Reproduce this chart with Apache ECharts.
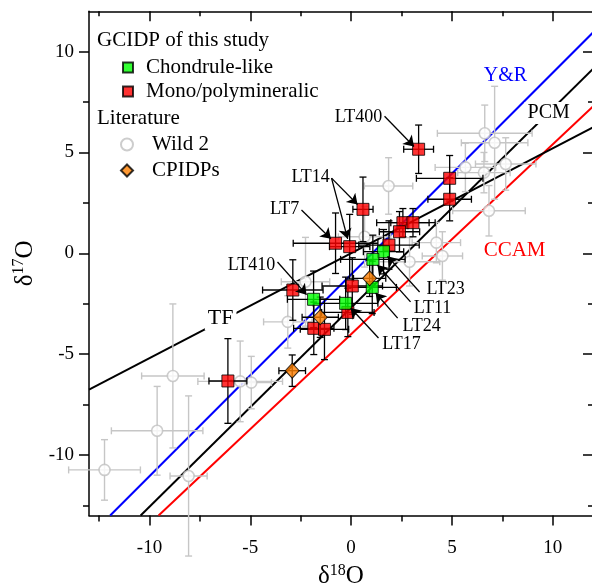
<!DOCTYPE html>
<html>
<head>
<meta charset="utf-8">
<script src="https://cdn.jsdelivr.net/npm/echarts@6/dist/echarts.min.js"></script>
<style>html,body{margin:0;padding:0;background:#fff;}#c{width:592px;height:584px;}</style>
</head>
<body>
<div id="c"></div>
<script>
// ---------- DATA ----------
// GCIDP of this study: Chondrule-like  [d18O, d17O, err18, err17]
const chondruleX = [1.61, 1.08, 1.05, -0.27, -1.86];
const chondruleY = [0.08, -0.30, -1.69, -2.48, -2.28];
const chondruleXErr = [1.0, 1.6, 1.2, 1.6, 1.3];
const chondruleYErr = [1.1, 1.2, 1.3, 1.3, 1.4];

// GCIDP of this study: Mono/polymineralic
const monoX = [3.35, 4.89, 4.89, 2.57, 3.07, 2.40, 1.88, 0.59, -0.77, -0.07, -2.89, -1.85, -1.32, 0.06, -0.16, -6.11];
const monoY = [5.16, 3.72, 2.68, 1.52, 1.52, 1.07, 0.41, 2.18, 0.50, 0.33, -1.82, -3.72, -3.77, -1.62, -2.93, -6.33];
const monoXErr = [0.74, 1.65, 1.08, 1.3, 1.1, 1.0, 1.5, 0.5, 2.1, 1.0, 1.5, 1.0, 1.2, 1.5, 1.3, 0.94];
const monoYErr = [1.2, 1.13, 1.07, 0.7, 0.7, 1.0, 1.2, 1.6, 1.5, 1.6, 1.5, 1.3, 1.5, 1.4, 1.2, 2.1];

// Literature: Wild 2
const wildX = [-12.23, -9.62, -8.84, -8.06, -5.50, -4.95, 6.63, 7.12, 7.67, 5.67, 6.59, 6.84, 1.86, 4.23, 4.53, 2.90, 0.67, -2.26, -3.14];
const wildY = [-10.74, -8.80, -6.08, -11.04, -6.35, -6.41, 5.95, 5.48, 4.43, 4.26, 4.00, 2.11, 3.34, 0.53, -0.13, -0.42, 0.82, -1.41, -3.40];
const wildXErr = [1.78, 2.27, 1.55, 0.92, 2.1, 1.0, 2.35, 1.65, 1.5, 1.5, 1.3, 1.8, 1.2, 1.2, 1.0, 1.5, 1.3, 1.2, 1.2];
const wildYErr = [1.5, 2.2, 3.57, 3.97, 2.0, 1.3, 1.4, 2.8, 1.3, 1.2, 1.0, 1.25, 1.4, 1.0, 1.2, 1.2, 1.5, 2.2, 1.3];

// Literature: CPIDPs
const cpX = [0.92, -1.53, -2.92];
const cpY = [-1.24, -3.17, -5.82];
const cpXErr = [0.8, 0.9, 0.66];
const cpYErr = [0.9, 1.0, 0.78];

// Reference lines (end points)
const lineYR = [[-11.95, -13], [12, 10.95]];
const linePCM = [[-10.44, -13], [12, 9.14]];
const lineCCAM = [[-9.55, -13], [12, 7.28]];
const lineTF = [[-13, -6.76], [12, 6.24]];

// Axis ticks
const majorTicks = [-10, -5, 0, 5, 10];
const minorTicks = [-12.5, -7.5, -2.5, 2.5, 7.5];

// Sample labels and arrows
const sampleLabels = [
  {name: 'LT400', pos: [0.37, 6.75]},
  {name: 'LT14', pos: [-2.01, 3.78]},
  {name: 'LT7', pos: [-3.3, 2.2]},
  {name: 'LT410', pos: [-4.94, -0.58]},
  {name: 'LT23', pos: [4.69, -1.77]},
  {name: 'LT11', pos: [4.04, -2.71]},
  {name: 'LT24', pos: [3.5, -3.6]},
  {name: 'LT17', pos: [2.5, -4.49]}
];
const sampleArrows = [
  [[1.66, 6.8], [3.12, 5.3]],
  [[-0.97, 3.73], [0.32, 2.42]],
  [[-0.97, 3.73], [-0.17, 0.72]],
  [[-2.46, 2.15], [-1.0, 0.72]],
  [[-3.65, -0.43], [-2.21, -2.05]],
  [[3.4, -1.92], [1.81, -0.15]],
  [[2.95, -2.41], [1.31, -0.58]],
  [[2.31, -3.21], [1.22, -1.97]],
  [[1.36, -4.2], [-0.02, -2.71]]
];
const lineLabels = [
  {name: 'Y&R', pos: [7.66, 8.79], color: '#0000ff', bg: null, size: 20},
  {name: 'PCM', pos: [9.8, 6.96], color: '#000000', bg: '#ffffff', size: 20},
  {name: 'TF', pos: [-6.47, -3.21], color: '#000000', bg: '#ffffff', size: 22},
  {name: 'CCAM', pos: [8.11, 0.16], color: '#ff0000', bg: null, size: 21}
];

// ---------- BUILD ----------
const FONT = 'Liberation Serif';
function rows(x, y, ex, ey) { return x.map((v, i) => [v, y[i], ex[i], ey[i]]); }

function errBars(color, width) {
  return function (params, api) {
    const x = api.value(0), y = api.value(1), ex = api.value(2), ey = api.value(3);
    const l = api.coord([x - ex, y]), r = api.coord([x + ex, y]);
    const t = api.coord([x, y + ey]), b = api.coord([x, y - ey]);
    const cap = 3.5;
    const st = {stroke: color, lineWidth: width, fill: null};
    const seg = (x1, y1, x2, y2) => ({type: 'line', shape: {x1, y1, x2, y2}, style: st});
    return {type: 'group', children: [
      seg(l[0], l[1], r[0], r[1]),
      seg(t[0], t[1], b[0], b[1]),
      seg(l[0], l[1] - cap, l[0], l[1] + cap),
      seg(r[0], r[1] - cap, r[0], r[1] + cap),
      seg(t[0] - cap, t[1], t[0] + cap, t[1]),
      seg(b[0] - cap, b[1], b[0] + cap, b[1])
    ]};
  };
}

function refLine(name, pts, color) {
  return {type: 'line', name, data: pts, symbol: 'none', silent: true, z: 1,
    lineStyle: {color, width: 2}, itemStyle: {color}, animation: false};
}

const chart = echarts.init(document.getElementById('c'), null, {renderer: 'canvas'});

const axisCommon = {type: 'value', min: -13, max: 12, splitLine: {show: false}};
const noLabel = {show: false};
const lineOn = {show: true, onZero: false, lineStyle: {color: '#000', width: 1.5}};
const lineOff = {show: false, onZero: false};
const tickStyle = {color: '#000', width: 1.5};
const nameRich = {
  a: {fontFamily: FONT, fontSize: 25, color: '#000', lineHeight: 28},
  s: {fontFamily: FONT, fontSize: 16, color: '#000', verticalAlign: 'top', lineHeight: 18}
};
const plainLabel = {show: true, position: 'inside', formatter: '{b}', fontFamily: FONT,
  textBorderWidth: 0, textShadowBlur: 0, opacity: 1};

const option = {
  animation: false,
  backgroundColor: '#fff',
  grid: {left: 89, top: 11.3, right: -1, bottom: 68.5, outerBoundsMode: 'none'},
  xAxis: [
    Object.assign({}, axisCommon, {position: 'bottom', axisLine: lineOn,
      axisTick: {show: true, customValues: majorTicks, length: 10, inside: false, lineStyle: tickStyle},
      axisLabel: {show: true, customValues: majorTicks, margin: 23, color: '#000', fontFamily: FONT, fontSize: 19},
      name: '{a|δ}{s|18}{a|O}', nameLocation: 'middle', nameGap: 36,
      nameTextStyle: {color: '#000', rich: nameRich}
    }),
    Object.assign({}, axisCommon, {position: 'bottom', axisLine: lineOff,
      axisTick: {show: true, customValues: minorTicks, length: 6, lineStyle: tickStyle},
      axisLabel: noLabel}),
    Object.assign({}, axisCommon, {position: 'top', axisLine: lineOn,
      axisTick: {show: true, customValues: majorTicks, length: 10, inside: true, lineStyle: tickStyle},
      axisLabel: noLabel}),
    Object.assign({}, axisCommon, {position: 'top', axisLine: lineOff,
      axisTick: {show: true, customValues: minorTicks, length: 5, inside: true, lineStyle: tickStyle},
      axisLabel: noLabel})
  ],
  yAxis: [
    Object.assign({}, axisCommon, {position: 'left', axisLine: lineOn,
      axisTick: {show: true, customValues: majorTicks, length: 10, lineStyle: tickStyle},
      axisLabel: {show: true, customValues: majorTicks, margin: 15, color: '#000', fontFamily: FONT, fontSize: 19},
      name: '{a|δ}{s|17}{a|O}', nameLocation: 'middle', nameGap: 50, nameRotate: 90,
      nameTextStyle: {color: '#000', rich: nameRich}
    }),
    Object.assign({}, axisCommon, {position: 'left', axisLine: lineOff,
      axisTick: {show: true, customValues: minorTicks, length: 6, lineStyle: tickStyle},
      axisLabel: noLabel}),
    Object.assign({}, axisCommon, {position: 'right', axisLine: lineOn,
      axisTick: {show: true, customValues: majorTicks, length: 10, inside: true, lineStyle: tickStyle},
      axisLabel: noLabel}),
    Object.assign({}, axisCommon, {position: 'right', axisLine: lineOff,
      axisTick: {show: true, customValues: minorTicks, length: 5, inside: true, lineStyle: tickStyle},
      axisLabel: noLabel})
  ],
  legend: [
    {orient: 'vertical', left: 117, top: 52, itemWidth: 10, itemHeight: 10, itemGap: 3,
      data: ['Chondrule-like', 'Mono/polymineralic'],
      textStyle: {fontFamily: FONT, fontSize: 21, color: '#000', lineHeight: 18, padding: [0, 0, 0, 8]}},
    {orient: 'vertical', left: 115, top: 129, itemWidth: 12, itemHeight: 12, itemGap: 5,
      data: ['Wild 2', 'CPIDPs'],
      textStyle: {fontFamily: FONT, fontSize: 21, color: '#000', lineHeight: 18, padding: [0, 0, 0, 14]}}
  ],
  graphic: [
    {type: 'text', left: 97, top: 30, style: {text: 'GCIDP of this study', font: '21px "Liberation Serif"', fill: '#000'}},
    {type: 'text', left: 97, top: 108, style: {text: 'Literature', font: '21px "Liberation Serif"', fill: '#000'}}
  ],
  series: [
    refLine('Y&R line', lineYR, '#0000ff'),
    refLine('CCAM line', lineCCAM, '#ff0000'),
    refLine('PCM line', linePCM, '#000000'),
    refLine('TF line', lineTF, '#000000'),
    {type: 'scatter', name: 'line labels', z: 3, silent: true,
      data: lineLabels.map(d => ({value: d.pos, name: d.name,
        label: {color: d.color, fontSize: d.size, backgroundColor: d.bg || 'transparent', padding: d.bg ? [1, 3] : 0}})),
      symbolSize: 1, itemStyle: {color: 'rgba(255,255,255,0)'},
      label: plainLabel},
    {type: 'custom', name: 'wild err', z: 4, silent: true, clip: false,
      data: rows(wildX, wildY, wildXErr, wildYErr), renderItem: errBars('#c6c6c6', 1.4)},
    {type: 'scatter', name: 'Wild 2', z: 5, data: rows(wildX, wildY, wildXErr, wildYErr),
      symbol: 'circle', symbolSize: 11,
      itemStyle: {color: '#ffffff', borderColor: '#c0c0c0', borderWidth: 1.6}},
    {type: 'custom', name: 'black err', z: 6, silent: true, clip: false,
      data: rows(monoX, monoY, monoXErr, monoYErr)
        .concat(rows(chondruleX, chondruleY, chondruleXErr, chondruleYErr))
        .concat(rows(cpX, cpY, cpXErr, cpYErr)),
      renderItem: errBars('#000000', 1.3)},
    {type: 'scatter', name: 'Mono/polymineralic', z: 7, data: rows(monoX, monoY, monoXErr, monoYErr),
      symbol: 'rect', symbolSize: 12, itemStyle: {color: '#ff0000', borderColor: '#000', borderWidth: 1}},
    {type: 'scatter', name: 'Chondrule-like', z: 7, data: rows(chondruleX, chondruleY, chondruleXErr, chondruleYErr),
      symbol: 'rect', symbolSize: 12, itemStyle: {color: '#00ff00', borderColor: '#000', borderWidth: 1}},
    {type: 'scatter', name: 'CPIDPs', z: 7, data: rows(cpX, cpY, cpXErr, cpYErr),
      symbol: 'diamond', symbolSize: [14, 15], itemStyle: {color: '#ff8000', borderColor: '#000', borderWidth: 1}},
    {type: 'lines', name: 'arrows', coordinateSystem: 'cartesian2d', z: 8, silent: true,
      data: sampleArrows.map(c => ({coords: c})),
      symbol: ['none', 'arrow'], symbolSize: 10,
      lineStyle: {color: '#000', width: 1.3, opacity: 1}},
    {type: 'scatter', name: 'sample labels', z: 9, silent: true,
      data: sampleLabels.map(d => ({value: d.pos, name: d.name})),
      symbolSize: 1, itemStyle: {color: 'rgba(255,255,255,0)'},
      label: Object.assign({}, plainLabel, {fontSize: 18, color: '#000'})}
  ]
};
chart.setOption(option);
</script>
</body>
</html>
